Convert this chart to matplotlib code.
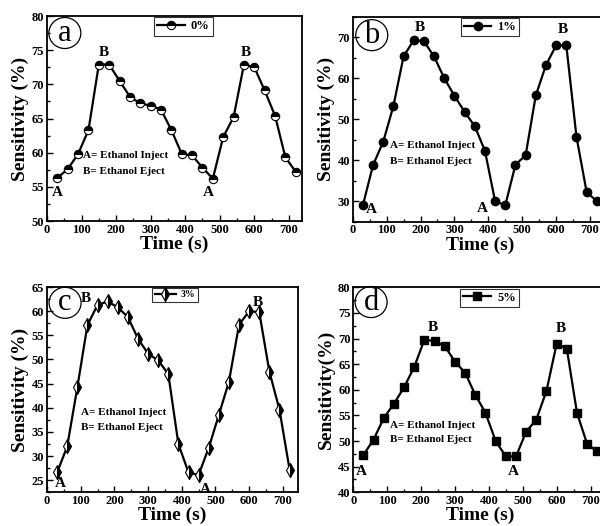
import matplotlib
matplotlib.use("Agg")
import matplotlib.pyplot as plt
from matplotlib.patches import Ellipse
from matplotlib.ticker import MultipleLocator

plt.rcParams['font.family'] = ['Liberation Serif', 'DejaVu Serif']

time_s = [30, 60, 90, 120, 150, 180, 210, 240, 270, 300, 330, 360,
          390, 420, 450, 480, 510, 540, 570, 600, 630, 660, 690, 720]

sens_0 = [56.3, 57.6, 59.8, 63.3, 72.9, 72.9, 70.5, 68.2, 67.2, 66.9, 66.3, 63.3,
          59.8, 59.6, 57.8, 56.2, 62.3, 65.2, 72.9, 72.5, 69.1, 65.4, 59.3, 57.2]
sens_1 = [29.0, 38.8, 44.5, 53.2, 65.3, 69.3, 69.0, 65.3, 60.0, 55.7, 51.8, 48.3,
          42.3, 30.0, 29.0, 38.9, 41.2, 55.8, 63.2, 68.0, 68.0, 45.7, 32.2, 30.0]
sens_3 = [26.6, 32.0, 44.2, 57.1, 61.3, 62.0, 60.8, 58.8, 54.3, 51.2, 49.8, 47.0,
          32.5, 26.6, 26.1, 31.7, 38.5, 45.4, 57.2, 60.0, 59.8, 47.5, 39.6, 27.2]
sens_5 = [47.3, 50.3, 54.5, 57.3, 60.5, 64.5, 69.8, 69.5, 68.5, 65.5, 63.3, 59.0,
          55.5, 50.0, 47.0, 47.0, 51.8, 54.2, 59.8, 69.0, 68.0, 55.5, 49.4, 48.0]

labels = ['0%', '1%', '3%', '5%']
panel_letters = ['a', 'b', 'c', 'd']
note_lines = ['A= Ethanol Inject', 'B= Ethanol Eject']

W, H = 600, 526
fig = plt.figure(figsize=(6.0, 5.26), dpi=100)

# (left, bottom, right, top) in pixels from top-left
boxes = [(47, 221, 302, 16), (352.7, 221.7, 607, 16.7),
         (47, 492.3, 298, 287), (353.3, 492.3, 607.5, 287.3)]
xlims = [(0, 738), (0, 750), (0, 745), (0, 750)]
ylims = [(50, 80), (25, 75), (22.5, 65), (40, 80)]
ymaj = [5, 10, 5, 5]
series = [sens_0, sens_1, sens_3, sens_5]
ylabels = ['Sensitivity (%)', 'Sensitivity (%)', 'Sensitivity (%)', 'Sensitivity(%)']
circle_pos = [(0.07, 0.917), (0.075, 0.91), (0.072, 0.923), (0.07, 0.928)]
leg_x = [0.535, 0.54, 0.51, 0.536]
leg_fs = [9, 9, 7, 9]
marker_styles = [
    dict(marker='o', fillstyle='top', markerfacecolor='black', markerfacecoloralt='white',
         markeredgecolor='black', markersize=6, markeredgewidth=0.8),
    dict(marker='o', markerfacecolor='black', markeredgecolor='black', markersize=6),
    dict(marker='d', fillstyle='right', markerfacecolor='black', markerfacecoloralt='white',
         markeredgecolor='black', markersize=7.5, markeredgewidth=0.8),
    dict(marker='s', markerfacecolor='black', markeredgecolor='black', markersize=5.5),
]
# A/B label positions (data coords)
ab_labels = [
    [('A', 29, 54.1), ('A', 466, 54.1), ('B', 165, 74.6), ('B', 576, 74.6)],
    [('A', 56, 27.9), ('A', 383, 28.2), ('B', 198, 72.3), ('B', 621, 71.9)],
    [('A', 39, 24.4), ('A', 469, 23.0), ('B', 116, 62.7), ('B', 627, 61.8)],
    [('A', 23, 44.1), ('A', 472, 44.1), ('B', 235, 72.1), ('B', 613, 71.9)],
]
notes = [(105, 59.6, 57.3), (110, 43.5, 39.7), (101, 39.1, 35.95), (109, 53.0, 50.3)]

for i in range(4):
    l, b, r, t = boxes[i]
    ax = fig.add_axes([l / W, (H - b) / H, (r - l) / W, (b - t) / H])
    ax.plot(time_s, series[i], color='black', lw=1.6, label=labels[i], **marker_styles[i])
    ax.set_xlim(*xlims[i])
    ax.set_ylim(*ylims[i])
    ax.xaxis.set_major_locator(MultipleLocator(100))
    ax.xaxis.set_minor_locator(MultipleLocator(50))
    ax.yaxis.set_major_locator(MultipleLocator(ymaj[i]))
    ax.yaxis.set_minor_locator(MultipleLocator(ymaj[i] / 2))
    ax.tick_params(which='both', direction='in', width=1.0)
    ax.tick_params(which='major', length=4, labelsize=9, pad=2)
    ax.tick_params(which='minor', length=2)
    for lab in ax.get_xticklabels() + ax.get_yticklabels():
        lab.set_fontweight('bold')
    for sp in ax.spines.values():
        sp.set_linewidth(1.3)
    ax.set_xlabel('Time (s)', fontsize=14, fontweight='bold', labelpad=0)
    ax.set_ylabel(ylabels[i], fontsize=14, fontweight='bold', labelpad=2)

    leg = ax.legend(loc='upper center', bbox_to_anchor=(leg_x[i], 1.0), borderaxespad=0.1,
                    frameon=True, fancybox=False, edgecolor='black', handlelength=2.2,
                    handletextpad=0.5, borderpad=0.25,
                    prop={'weight': 'bold', 'size': leg_fs[i]})
    leg.get_frame().set_linewidth(0.8)

    axw = (r - l)
    axh = (b - t)
    cx, cy = circle_pos[i]
    ax.add_patch(Ellipse((cx, cy), width=32 / axw, height=31 / axh, transform=ax.transAxes,
                         facecolor='none', edgecolor='black', lw=0.9, clip_on=False, zorder=5))
    ax.text(cx, cy, panel_letters[i], transform=ax.transAxes, ha='center', va='center',
            fontsize=22, zorder=6)

    for txt, x, y in ab_labels[i]:
        ax.text(x, y, txt, ha='center', va='center', fontsize=11, fontweight='bold')
    nx, ny1, ny2 = notes[i]
    ax.text(nx, ny1, note_lines[0], ha='left', va='center', fontsize=8, fontweight='bold')
    ax.text(nx, ny2, note_lines[1], ha='left', va='center', fontsize=8, fontweight='bold')

fig.savefig('out.png', dpi=100)
